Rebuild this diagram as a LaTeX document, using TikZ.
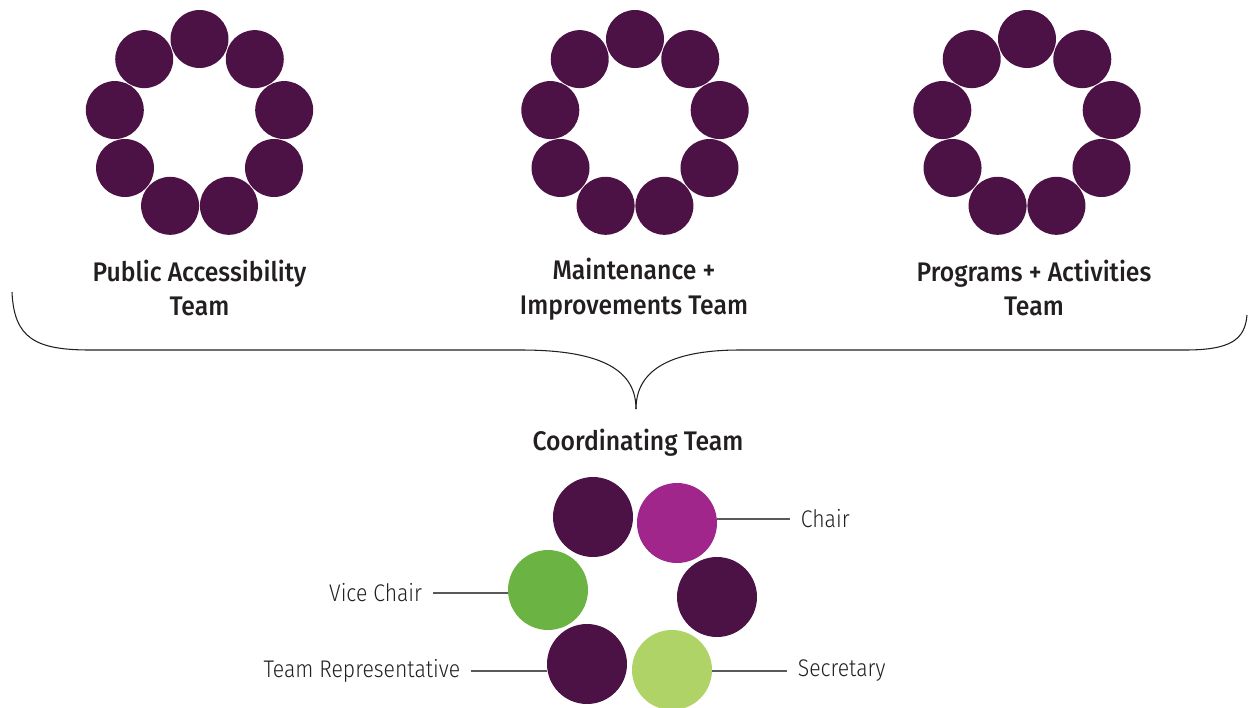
\documentclass[tikz,border=0pt]{standalone}
\usepackage{fontspec}
\usepackage{tikz}
\newfontfamily\headfont{Fira Sans Medium}[FakeStretch=0.92]
\newfontfamily\rolefont{Fira Sans Light}[FakeStretch=0.88]
\definecolor{plum}{HTML}{4D1245}
\definecolor{orchid}{HTML}{A0268C}
\definecolor{leaf}{HTML}{6BB343}
\definecolor{lime}{HTML}{AFD367}
\definecolor{ink}{HTML}{231F20}
\definecolor{wire}{HTML}{58595B}

\begin{document}
\begin{tikzpicture}[x=0.02cm, y=-0.02cm,
    bead/.style={circle, fill=plum, inner sep=0pt, minimum size=1.16cm},
    seat/.style={circle, fill=plum, inner sep=0pt, minimum size=1.6cm},
    head/.style={align=center, text=ink, font=\headfont\fontsize{15.3}{19.8}\selectfont},
    role/.style={text=ink, inner xsep=6pt, font=\rolefont\fontsize{13.7}{16}\selectfont}]
    \useasboundingbox (0,0) rectangle (1248,707);

    % Define centres of the three team rings
    \coordinate (pa) at (199.5,125);
    \coordinate (mi) at (635,125);
    \coordinate (pr) at (1027,125);

    % Draw nine beads around each centre
    \foreach \ring in {pa,mi,pr}
        \foreach \i in {0,...,8}
            \node[bead] (\ring\i) at ([shift={(270+40*\i:86)}]\ring) {};

    % Team names
    \node[head] (tpa) at (199.5,288) {Public Accessibility\\Team};
    \node[head] (tmi) at (634,289) {Maintenance +\\Improvements Team};
    \node[head] (tpr) at (1034,288) {Programs + Activities\\Team};

    % Draw the brace joining the teams
    \coordinate (tip) at (636,409);
    \draw[ink, line width=0.6pt] (12,292) .. controls (14,338) and (35,350) .. (90,350)
        -- (521,350) .. controls (605,350) and (636,372) .. (tip);
    \draw[ink, line width=0.6pt] (1247,315) .. controls (1245,340) and (1230,350) .. (1185,350)
        -- (740,350) .. controls (667,350) and (636,372) .. (tip);

    \node[head] (ct) at (638,443) {Coordinating Team};

    % Coordinating team seats
    \node[seat] (s1) at (593,517) {};
    \node[seat, fill=orchid] (chair) at (677,523) {};
    \node[seat, fill=leaf] (vice) at (548,590) {};
    \node[seat] (s2) at (717,597) {};
    \node[seat] (rep) at (587,664) {};
    \node[seat, fill=lime] (sec) at (672,670) {};

    % Role labels and leader lines
    \node[role, anchor=west] (lchair) at (790,519) {Chair};
    \node[role, anchor=east] (lvice) at (433,593) {Vice Chair};
    \node[role, anchor=east] (lrep) at (471,671) {Team Representative};
    \node[role, anchor=west] (lsec) at (787,671) {Secretary};
    \draw[wire, line width=0.7pt] (lchair.west) -- (lchair.west -| chair.east);
    \draw[wire, line width=0.7pt] (lvice.east) -- (lvice.east -| vice.west);
    \draw[wire, line width=0.7pt] (lrep.east) -- (lrep.east -| rep.west);
    \draw[wire, line width=0.7pt] (lsec.west) -- (lsec.west -| sec.east);
\end{tikzpicture}
\end{document}
